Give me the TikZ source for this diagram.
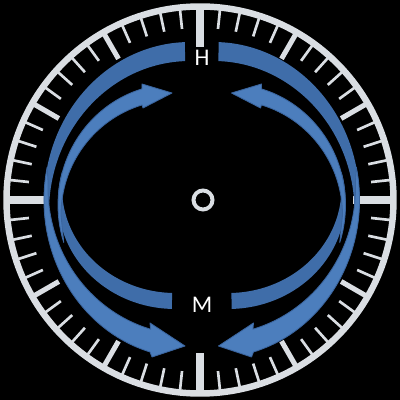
\documentclass[tikz,border=0pt]{standalone}
\usepackage{fontspec}
\setmainfont{Carlito}
\usepackage{xcolor}
\definecolor{dialgray}{HTML}{DADEE3}
\definecolor{bandblue}{HTML}{3F6DA9}
\definecolor{arrowblue}{HTML}{4C7EBD}
\definecolor{edgeblue}{HTML}{3A659F}

\begin{document}
\begin{tikzpicture}[x=0.025cm, y=0.025cm,
    crescent/.style={fill=bandblue},
    sweeparrow/.style={fill=arrowblue, draw=edgeblue, line width=0.6pt, line join=round},
    dialtick/.style={dialgray, line width=1.9pt},
    dialletter/.style={text=white, inner sep=0, font=\fontsize{17}{17}\selectfont}]
    \fill[black] (0,0) rectangle (400,400);
    \useasboundingbox (0,0) rectangle (400,400);

    % dial
    \draw[dialgray, line width=4.6pt] (200,200) circle (193.5);
    \begin{scope}[shift={(200,200)}]
        \foreach \a in {0,6,...,354}
            \draw[dialtick] (\a:191) -- (\a:172);
        \foreach \a in {30,60,...,330}
            \draw[dialtick, line width=3.6pt] (\a:191) -- (\a:163);
        \foreach \a in {0,90,180,270}
            \draw[dialtick, line width=5pt] (\a:192) -- (\a:153);
    \end{scope}

    % left half, then mirrored
    \foreach \sx/\dx in {1/0,-1/403.5} {
    \begin{scope}[shift={(\dx,0)}, xscale=\sx]
        \fill[crescent] ([shift={(190,200)}]92:146 and 158)
            arc[start angle=92, end angle=192, x radius=146, y radius=158]
            -- ([shift={(190,188)}]182:141 and 151)
            arc[start angle=182, end angle=92, x radius=141, y radius=151] -- cycle;
        \fill[crescent] ([shift={(175,200)}]165:117 and 109)
            arc[start angle=165, end angle=268.5, x radius=117, y radius=109]
            -- ([shift={(175,212)}]268.5:113 and 105)
            arc[start angle=268.5, end angle=175, x radius=113, y radius=105] -- cycle;
        \filldraw[sweeparrow] ([shift={(175,195)}]106.4:117 and 121)
            arc[start angle=106.4, end angle=198, x radius=117, y radius=121]
            -- ([shift={(175,185)}]180:114 and 115)
            arc[start angle=180, end angle=106.8, x radius=114, y radius=115]
            -- (143,292) -- (172,307) -- (142,316) -- cycle;
        \filldraw[sweeparrow] ([shift={(190,200)}]168:146 and 158)
            arc[start angle=168, end angle=254.1, x radius=146, y radius=158]
            -- (152,43) -- (185,54) -- (150,77)
            -- ([shift={(190,212)}]253.9:142 and 147)
            arc[start angle=253.9, end angle=178, x radius=142, y radius=147] -- cycle;
    \end{scope}
    }

    \draw[dialgray, line width=2.8pt] (203,200) circle (9.5);
    \node[dialletter] (hourmark) at (202,342) {H};
    \node[dialletter] (minutemark) at (202,95) {M};
\end{tikzpicture}
\end{document}
